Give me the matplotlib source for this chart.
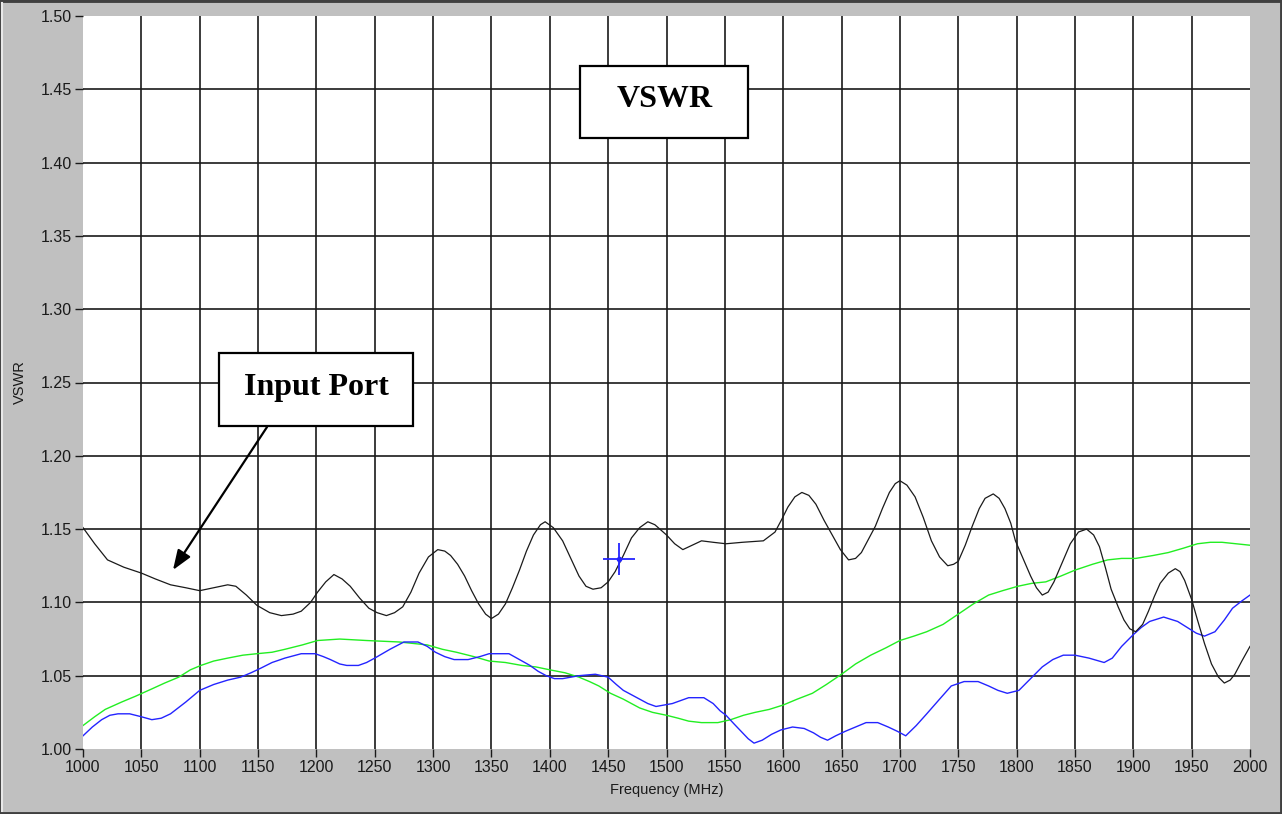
import matplotlib
matplotlib.use("Agg")
import matplotlib.pyplot as plt
from matplotlib.patches import Rectangle

# ---------------- data ----------------
input_freq = [1000, 1010, 1021, 1035, 1050, 1062, 1075, 1088, 1100, 1112, 1124, 1131, 1140, 1149,
              1160, 1170, 1180, 1187, 1195, 1201, 1208, 1215, 1222, 1229, 1237, 1245, 1252, 1260,
              1267, 1274, 1281, 1288, 1296, 1304, 1310, 1315, 1321, 1327, 1333, 1339, 1345, 1350,
              1356, 1362, 1368, 1374, 1380, 1386, 1392, 1396, 1403, 1411, 1418, 1425, 1431, 1437,
              1444, 1450, 1456, 1463, 1470, 1477, 1484, 1490, 1500, 1507, 1514, 1522, 1530, 1540,
              1551, 1565, 1583, 1593, 1599, 1604, 1610, 1616, 1622, 1628, 1635, 1642, 1649, 1656,
              1662, 1667, 1673, 1679, 1685, 1691, 1696, 1700, 1706, 1713, 1720, 1727, 1734, 1741,
              1746, 1750, 1756, 1762, 1768, 1773, 1780, 1785, 1790, 1795, 1799, 1806, 1812, 1817,
              1822, 1827, 1832, 1839, 1846, 1853, 1860, 1866, 1871, 1876, 1881, 1887, 1892, 1897,
              1902, 1908, 1913, 1918, 1923, 1930, 1936, 1940, 1944, 1950, 1955, 1961, 1967, 1973,
              1978, 1983, 1987, 1993, 2000]
input_vswr = [1.151, 1.140, 1.129, 1.124, 1.120, 1.116, 1.112, 1.110, 1.108, 1.110, 1.112, 1.111,
              1.105, 1.098, 1.093, 1.091, 1.092, 1.094, 1.100, 1.107, 1.114, 1.119, 1.116, 1.111,
              1.103, 1.096, 1.093, 1.091, 1.093, 1.097, 1.107, 1.120, 1.131, 1.136, 1.135, 1.132,
              1.126, 1.118, 1.108, 1.099, 1.092, 1.089, 1.092, 1.099, 1.110, 1.122, 1.135, 1.146,
              1.153, 1.155, 1.151, 1.142, 1.130, 1.118, 1.111, 1.109, 1.110, 1.114, 1.121, 1.132,
              1.144, 1.151, 1.155, 1.153, 1.146, 1.140, 1.136, 1.139, 1.142, 1.141, 1.140, 1.141,
              1.142, 1.148, 1.157, 1.165, 1.172, 1.175, 1.173, 1.167, 1.156, 1.146, 1.136, 1.129,
              1.130, 1.134, 1.143, 1.152, 1.164, 1.175, 1.181, 1.183, 1.180, 1.172, 1.158, 1.142,
              1.131, 1.125, 1.126, 1.128, 1.139, 1.152, 1.164, 1.171, 1.174, 1.171, 1.164, 1.154,
              1.142, 1.129, 1.118, 1.110, 1.105, 1.107, 1.114, 1.127, 1.140, 1.148, 1.150, 1.146,
              1.138, 1.124, 1.109, 1.097, 1.088, 1.082, 1.080, 1.085, 1.094, 1.104, 1.113, 1.120,
              1.123, 1.121, 1.115, 1.102, 1.088, 1.072, 1.058, 1.049, 1.045, 1.047, 1.051, 1.060,
              1.070]

green_freq = [1000, 1010, 1019, 1033, 1045, 1059, 1070, 1082, 1092, 1101, 1112, 1124, 1137, 1149,
              1162, 1173, 1188, 1201, 1220, 1243, 1271, 1295, 1308, 1320, 1335, 1348, 1362, 1376,
              1388, 1400, 1413, 1425, 1434, 1442, 1452, 1463, 1477, 1488, 1500, 1510, 1519, 1530,
              1544, 1555, 1566, 1576, 1588, 1600, 1612, 1625, 1637, 1650, 1662, 1675, 1688, 1700,
              1712, 1723, 1737, 1750, 1763, 1776, 1788, 1801, 1813, 1825, 1838, 1850, 1865, 1878,
              1890, 1902, 1917, 1930, 1943, 1955, 1966, 1976, 1988, 2000]
green_vswr = [1.016, 1.022, 1.027, 1.032, 1.036, 1.041, 1.045, 1.049, 1.054, 1.057, 1.060, 1.062,
              1.064, 1.065, 1.066, 1.068, 1.071, 1.074, 1.075, 1.074, 1.073, 1.071, 1.068, 1.066,
              1.063, 1.060, 1.059, 1.057, 1.056, 1.054, 1.052, 1.049, 1.046, 1.043, 1.038, 1.034,
              1.028, 1.025, 1.023, 1.021, 1.019, 1.018, 1.018, 1.020, 1.023, 1.025, 1.027, 1.030,
              1.034, 1.038, 1.044, 1.051, 1.058, 1.064, 1.069, 1.074, 1.077, 1.080, 1.085, 1.092,
              1.099, 1.105, 1.108, 1.111, 1.113, 1.114, 1.118, 1.122, 1.126, 1.129, 1.130, 1.130,
              1.132, 1.134, 1.137, 1.140, 1.141, 1.141, 1.140, 1.139]

blue_freq = [1000, 1008, 1016, 1023, 1030, 1040, 1050, 1059, 1067, 1075, 1088, 1100, 1112, 1124,
             1135, 1144, 1152, 1162, 1173, 1187, 1199, 1206, 1212, 1220, 1226, 1236, 1243, 1250,
             1263, 1275, 1287, 1295, 1302, 1310, 1318, 1330, 1340, 1348, 1365, 1374, 1383, 1390,
             1397, 1404, 1411, 1418, 1425, 1439, 1450, 1457, 1463, 1470, 1477, 1484, 1491, 1498,
             1505, 1512, 1519, 1532, 1540, 1546, 1551, 1558, 1564, 1570, 1575, 1582, 1590, 1598,
             1608, 1618, 1626, 1632, 1638, 1645, 1653, 1662, 1671, 1681, 1690, 1698, 1705, 1714,
             1723, 1734, 1744, 1755, 1767, 1776, 1784, 1792, 1802, 1812, 1822, 1831, 1840, 1850,
             1862, 1875, 1882, 1890, 1900, 1907, 1914, 1926, 1938, 1946, 1954, 1961, 1970, 1978,
             1985, 1993, 2000]
blue_vswr = [1.009, 1.015, 1.020, 1.023, 1.024, 1.024, 1.022, 1.020, 1.021, 1.024, 1.032, 1.040,
             1.044, 1.047, 1.049, 1.052, 1.055, 1.059, 1.062, 1.065, 1.065, 1.063, 1.061, 1.058,
             1.057, 1.057, 1.059, 1.062, 1.068, 1.073, 1.073, 1.070, 1.066, 1.063, 1.061, 1.061,
             1.063, 1.065, 1.065, 1.061, 1.057, 1.053, 1.050, 1.048, 1.048, 1.049, 1.050, 1.051,
             1.049, 1.044, 1.040, 1.037, 1.034, 1.031, 1.029, 1.030, 1.031, 1.033, 1.035, 1.035,
             1.031, 1.026, 1.023, 1.017, 1.012, 1.007, 1.004, 1.006, 1.010, 1.013, 1.015, 1.014,
             1.011, 1.008, 1.006, 1.009, 1.012, 1.015, 1.018, 1.018, 1.015, 1.012, 1.009, 1.016,
             1.024, 1.034, 1.043, 1.046, 1.046, 1.043, 1.040, 1.038, 1.040, 1.048, 1.056, 1.061,
             1.064, 1.064, 1.062, 1.059, 1.062, 1.070, 1.078, 1.083, 1.087, 1.090, 1.087, 1.083,
             1.079, 1.077, 1.080, 1.088, 1.096, 1.101, 1.105]

cursor_x = [1459]
cursor_y = [1.1296]

x_ticks = list(range(1000, 2001, 50))
y_ticks = [1.00, 1.05, 1.10, 1.15, 1.20, 1.25, 1.30, 1.35, 1.40, 1.45, 1.50]
y_tick_labels = ["1.00", "1.05", "1.10", "1.15", "1.20", "1.25", "1.30", "1.35", "1.40", "1.45", "1.50"]

title_text = "VSWR"
callout_text = "Input Port"
x_label = "Frequency (MHz)"
y_label = "VSWR"

# ---------------- figure ----------------
W, H, DPI = 1282, 814, 100
fig = plt.figure(figsize=(W / DPI, H / DPI), dpi=DPI, facecolor="#c0c0c0")

# window frame (bevel: dark top/right/bottom, light left)
fig.patches.append(Rectangle((0, 0), 1, 1, transform=fig.transFigure, fill=False,
                             edgecolor="#404040", linewidth=3.5, zorder=10))
fig.lines.append(plt.Line2D([0.0015, 0.0015], [0.004, 0.996], transform=fig.transFigure,
                            color="#e8e8e8", linewidth=1.5, zorder=11))

ax = fig.add_axes([83 / W, 1 - 749 / H, (1250 - 83) / W, (749 - 16) / H])
ax.set_facecolor("white")
ax.set_xlim(1000, 2000)
ax.set_ylim(1.00, 1.50)

for s in ax.spines.values():
    s.set_visible(False)

# interior grid
ax.vlines(x_ticks[1:-1], 1.00, 1.50, colors="#1a1a1a", linewidth=1.2, zorder=1)
ax.hlines(y_ticks[1:-1], 1000, 2000, colors="#1a1a1a", linewidth=1.2, zorder=1)

# curves
ax.plot(green_freq, green_vswr, color="#22ee22", linewidth=1.0, zorder=3)
ax.plot(blue_freq, blue_vswr, color="#2424ff", linewidth=1.0, zorder=4)
ax.plot(input_freq, input_vswr, color="#1a1a1a", linewidth=0.9, zorder=5)

# cursor
ax.plot(cursor_x, cursor_y, marker="+", markersize=23, markeredgewidth=1.3,
        color="#2424ff", linestyle="none", zorder=6)
ax.plot(cursor_x, cursor_y, marker="o", markersize=3, color="#2424ff",
        linestyle="none", zorder=6)

# ticks
tick_font = dict(family=["Liberation Sans", "DejaVu Sans"], size=11.5)
ax.set_xticks(x_ticks)
ax.set_xticklabels([str(v) for v in x_ticks], **tick_font)
ax.set_yticks(y_ticks)
ax.set_yticklabels(y_tick_labels, **tick_font)
ax.tick_params(axis="both", direction="out", length=6, width=1.0, color="#1a1a1a",
               labelcolor="#1a1a1a", pad=2)

ax.set_xlabel(x_label, family=["Liberation Sans", "DejaVu Sans"], size=10.5,
              color="#1a1a1a", labelpad=6)
ax.set_ylabel(y_label, family=["Liberation Sans", "DejaVu Sans"], size=10.5,
              color="#1a1a1a", labelpad=10)

# annotation boxes
box_kw = dict(transform=ax.transAxes, facecolor="white", edgecolor="black",
              linewidth=1.6, zorder=8)
ax.add_patch(Rectangle((0.4259, 0.8336), 0.5698 - 0.4259, 0.9318 - 0.8336, **box_kw))
ax.text(0.4983, 0.8759, title_text, transform=ax.transAxes, ha="center", va="baseline",
        family=["Liberation Serif", "DejaVu Serif"], weight="bold", size=23, zorder=9)

ax.add_patch(Rectangle((0.1165, 0.4407), 0.2828 - 0.1165, 0.5402 - 0.4407, **box_kw))
ax.text(0.1997, 0.4829, callout_text, transform=ax.transAxes, ha="center", va="baseline",
        family=["Liberation Serif", "DejaVu Serif"], weight="bold", size=23, zorder=9)

ax.annotate("", xy=(0.0771, 0.2442), xytext=(0.1577, 0.4393),
            xycoords="axes fraction", textcoords="axes fraction",
            arrowprops=dict(arrowstyle="-|>,head_length=1.2,head_width=0.45",
                            color="black", linewidth=1.6, shrinkA=0, shrinkB=0),
            zorder=9)

fig.savefig("out.png", dpi=DPI, facecolor=fig.get_facecolor())
